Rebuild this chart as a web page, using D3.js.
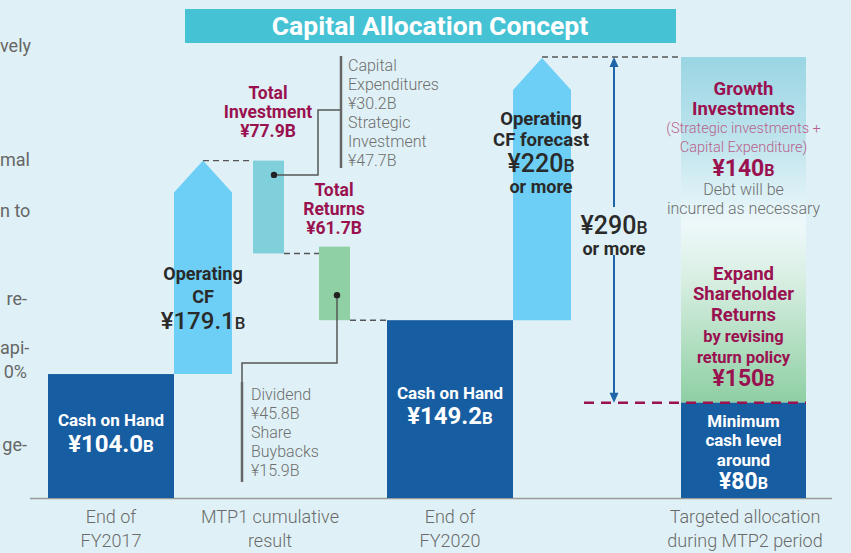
<!DOCTYPE html>
<html><head><meta charset="utf-8">
<script src="https://cdn.jsdelivr.net/npm/d3@7"></script>
<style>
html,body{margin:0;padding:0;background:#dff1f6;}
svg{display:block;font-family:Roboto,"Noto Sans",sans-serif;}
</style></head><body>
<svg id="chart" width="851" height="553"></svg>
<script>
// ---- values, ¥ billions ----
const stageLabels = [["End of", "FY2017"], ["MTP1 cumulative", "result"], ["End of", "FY2020"], ["Targeted allocation", "during MTP2 period"]];
const cashOnHand = [104.0, 149.2];          // end of FY2017, end of FY2020
const operatingCF = [179.1, 220];           // MTP1 result, MTP2 forecast
const investmentNames = ["Capital Expenditures", "Strategic Investment"];
const investmentValues = [30.2, 47.7];
const totalInvestment = 77.9;
const returnNames = ["Dividend", "Share Buybacks"];
const returnValues = [45.8, 15.9];
const totalReturns = 61.7;
const targetNames = ["Minimum cash level", "Shareholder returns", "Growth investments"];
const targetValues = [80, 150, 140];
const targetTotal = 290;
const sideNotes = ["vely", "mal", "n to", "re-", "api-", "0%", "ge-"];

// ---- layout ----
const W = 851, H = 553, base = 498;
const col = {
  cash1: [48, 174], ocf1: [174, 232], inv: [253, 284], ret: [319, 350],
  cash2: [387, 513], ocf2: [513, 571], target: [681, 806]
};
const C = {
  dark: "#175da2", sky: "#6dcff6", inv: "#80d0dc", ret: "#8fd0a4",
  maroon: "#9a1150", maroonLight: "#b8628c", gray: "#6e6e6e", ink: "#2a2a2a", arrow: "#1f63a8"
};

const svg = d3.select("#chart");
const y = d3.scaleLinear().domain([0, cashOnHand[1] + operatingCF[1]]).range([base, 58]);
const fmt = d3.format(".1f");

// gradient for the MTP2 allocation block
const allocLow = targetValues[0], allocMid = allocLow + targetValues[1], allocTop = allocMid + targetValues[2];
const grad = svg.append("defs").append("linearGradient").attr("id", "alloc")
  .attr("gradientUnits", "userSpaceOnUse").attr("x1", 0).attr("x2", 0).attr("y1", y(allocTop)).attr("y2", y(allocLow));
const split = (y(allocMid) - y(allocTop)) / (y(allocLow) - y(allocTop));
[[0, "#99d5e3"], [split * 0.55, "#c3e6ee"], [split, "#eef8fb"], [split + (1 - split) * 0.3, "#d9efe3"], [1, "#8ecfa3"]]
  .forEach(([o, c]) => grad.append("stop").attr("offset", o).attr("stop-color", c));

// title banner
svg.append("rect").attr("x", 185).attr("y", 9).attr("width", 491).attr("height", 34).attr("fill", "#45c3d4");
svg.append("text").attr("x", 430).attr("y", 35).attr("text-anchor", "middle")
  .attr("fill", "#fff").attr("font-size", 26.5).attr("font-weight", 700).text("Capital Allocation Concept");

// text of the neighbouring column, showing at the left margin
const sideY = [46, 160, 211, 299, 348, 372, 445];
svg.append("g").selectAll("text").data(sideNotes).join("text")
  .attr("y", (d, i) => sideY[i] + 6)
  .attr("fill", "#666").attr("font-size", 18).attr("font-weight", 400).text(d => d)
  .attr("x", function () { return Math.max(0, 27 - this.getComputedTextLength()); });

// baseline
svg.append("line").attr("x1", 30).attr("x2", 832).attr("y1", base + 0.5).attr("y2", base + 0.5)
  .attr("stroke", "#9a9a9a").attr("stroke-width", 1.5);

// text helper: each line {t, y (centre), size, weight, fill, suffix}
function block(cx, lines, anchor = "middle") {
  const g = svg.append("g");
  lines.forEach(l => {
    const t = g.append("text").attr("x", cx).attr("y", l.y + l.size * 0.36)
      .attr("text-anchor", anchor).attr("fill", l.fill).attr("font-size", l.size)
      .attr("font-weight", l.weight || 400).text(l.t);
    if (l.suffix) t.append("tspan").attr("font-size", l.size * 0.7).text(l.suffix);
  });
  return g;
}

function rect(x0x1, v0, v1, fill) {
  return svg.append("rect").attr("x", x0x1[0]).attr("width", x0x1[1] - x0x1[0])
    .attr("y", y(Math.max(v0, v1))).attr("height", Math.abs(y(v0) - y(v1))).attr("fill", fill);
}

// up-pointing block arrow from v0 to v1
function blockArrow(x0x1, v0, v1) {
  const [a, b] = x0x1, m = (a + b) / 2, tipY = y(v1), sh = tipY + 32;
  svg.append("path").attr("fill", C.sky)
    .attr("d", `M${a},${y(v0)}L${a},${sh}L${m},${tipY}L${b},${sh}L${b},${y(v0)}Z`);
  return [m, tipY];
}

function dash(x1, x2, yy, color = "#555", w = 1.4, da = "6,4") {
  svg.append("line").attr("x1", x1).attr("x2", x2).attr("y1", yy).attr("y2", yy)
    .attr("stroke", color).attr("stroke-width", w).attr("stroke-dasharray", da);
}

// ---- FY2017 cash ----
rect(col.cash1, 0, cashOnHand[0], C.dark);
block((col.cash1[0] + col.cash1[1]) / 2, [
  {t: "Cash on Hand", y: 420, size: 17, weight: 700, fill: "#fff"},
  {t: "¥" + fmt(cashOnHand[0]), suffix: "B", y: 443, size: 24, weight: 700, fill: "#fff"}
]);

// ---- MTP1 operating CF ----
const ocf1Top = cashOnHand[0] + operatingCF[0];
const [tip1x, tip1y] = blockArrow(col.ocf1, cashOnHand[0], ocf1Top);
block(203, [
  {t: "Operating", y: 274, size: 18, weight: 700, fill: C.ink},
  {t: "CF", y: 297, size: 18, weight: 700, fill: C.ink},
  {t: "¥" + fmt(operatingCF[0]), suffix: "B", y: 320, size: 24, weight: 500, fill: C.ink}
]);

// ---- MTP1 investment ----
const invBottom = ocf1Top - totalInvestment;
dash(tip1x, col.inv[0], y(ocf1Top));
rect(col.inv, ocf1Top, invBottom, C.inv);
block(268, [
  {t: "Total", y: 93, size: 17.5, weight: 700, fill: C.maroon},
  {t: "Investment", y: 112, size: 17.5, weight: 700, fill: C.maroon},
  {t: "¥" + fmt(totalInvestment) + "B", y: 131, size: 17.5, weight: 700, fill: C.maroon}
]);
const invDot = [274, y(ocf1Top - 12)];
svg.append("path").attr("fill", "none").attr("stroke", "#555").attr("stroke-width", 1.5)
  .attr("d", `M${invDot[0]},${invDot[1]}H318V110H341`);
svg.append("circle").attr("cx", invDot[0]).attr("cy", invDot[1]).attr("r", 3.2).attr("fill", "#222");
svg.append("line").attr("x1", 341).attr("x2", 341).attr("y1", 56).attr("y2", 168).attr("stroke", "#666").attr("stroke-width", 2.5);
const invLines = ["Capital", "Expenditures", "¥" + fmt(investmentValues[0]) + "B", "Strategic", "Investment", "¥" + fmt(investmentValues[1]) + "B"];
block(348, invLines.map((t, i) => ({t, y: 65 + i * 19, size: 16, weight: 300, fill: C.gray})), "start");

// ---- MTP1 returns (ending at FY2020 cash level) ----
const retTop = cashOnHand[1] + totalReturns;
dash(col.inv[1], col.ret[0], y(invBottom));
rect(col.ret, cashOnHand[1], retTop, C.ret);
block(334, [
  {t: "Total", y: 190, size: 17.5, weight: 700, fill: C.maroon},
  {t: "Returns", y: 209, size: 17.5, weight: 700, fill: C.maroon},
  {t: "¥" + fmt(totalReturns) + "B", y: 228, size: 17.5, weight: 700, fill: C.maroon}
]);
const retDot = [337, y(cashOnHand[1] + 21)];
svg.append("path").attr("fill", "none").attr("stroke", "#555").attr("stroke-width", 1.5)
  .attr("d", `M${retDot[0]},${retDot[1]}V363H242V382`);
svg.append("circle").attr("cx", retDot[0]).attr("cy", retDot[1]).attr("r", 3.2).attr("fill", "#222");
svg.append("line").attr("x1", 242).attr("x2", 242).attr("y1", 382).attr("y2", 482).attr("stroke", "#666").attr("stroke-width", 2.5);
const retLines = ["Dividend", "¥" + fmt(returnValues[0]) + "B", "Share", "Buybacks", "¥" + fmt(returnValues[1]) + "B"];
block(251, retLines.map((t, i) => ({t, y: 394 + i * 19, size: 16, weight: 300, fill: C.gray})), "start");
dash(col.ret[1], col.cash2[0], y(cashOnHand[1]));

// ---- FY2020 cash ----
rect(col.cash2, 0, cashOnHand[1], C.dark);
block((col.cash2[0] + col.cash2[1]) / 2, [
  {t: "Cash on Hand", y: 393, size: 17, weight: 700, fill: "#fff"},
  {t: "¥" + fmt(cashOnHand[1]), suffix: "B", y: 415, size: 24, weight: 700, fill: "#fff"}
]);

// ---- MTP2 operating CF forecast ----
const [tip2x, tip2y] = blockArrow(col.ocf2, cashOnHand[1], cashOnHand[1] + operatingCF[1]);
block(541, [
  {t: "Operating", y: 118, size: 18.5, weight: 700, fill: C.ink},
  {t: "CF forecast", y: 139, size: 18.5, weight: 700, fill: C.ink},
  {t: "¥" + operatingCF[1], suffix: "B", y: 163, size: 25, weight: 500, fill: C.ink},
  {t: "or more", y: 187, size: 18, weight: 700, fill: C.ink}
]);
dash(tip2x, col.target[0], y(allocTop));

// ---- MTP2 target allocation ----
rect(col.target, allocLow, allocTop, "url(#alloc)");
rect(col.target, 0, allocLow, C.dark);
dash(584, col.target[1], y(allocLow), C.maroon, 2.5, "10,7");

// double arrow spanning the allocation
const ax = 614, yTop = y(allocTop), yBot = y(allocLow);
svg.append("line").attr("x1", ax).attr("x2", ax).attr("y1", yTop + 8).attr("y2", 207).attr("stroke", C.arrow).attr("stroke-width", 2);
svg.append("line").attr("x1", ax).attr("x2", ax).attr("y1", 255).attr("y2", yBot - 8).attr("stroke", C.arrow).attr("stroke-width", 2);
svg.append("path").attr("fill", C.arrow).attr("d", `M${ax - 4.5},${yTop + 10}L${ax},${yTop}L${ax + 4.5},${yTop + 10}Z`);
svg.append("path").attr("fill", C.arrow).attr("d", `M${ax - 4.5},${yBot - 10}L${ax},${yBot}L${ax + 4.5},${yBot - 10}Z`);
block(ax, [
  {t: "¥" + targetTotal, suffix: "B", y: 225, size: 25, weight: 500, fill: C.ink},
  {t: "or more", y: 249, size: 18, weight: 700, fill: C.ink}
]);

const tcx = (col.target[0] + col.target[1]) / 2;
block(tcx, [
  {t: "Growth", y: 88, size: 18.5, weight: 700, fill: C.maroon},
  {t: "Investments", y: 108, size: 18.5, weight: 700, fill: C.maroon},
  {t: "(Strategic investments +", y: 128, size: 14.5, weight: 300, fill: C.maroonLight},
  {t: "Capital Expenditure)", y: 147, size: 14.5, weight: 300, fill: C.maroonLight},
  {t: "¥" + targetValues[2], suffix: "B", y: 168, size: 23, weight: 700, fill: C.maroon},
  {t: "Debt will be", y: 189, size: 16, weight: 300, fill: C.gray},
  {t: "incurred as necessary", y: 208, size: 16, weight: 300, fill: C.gray}
]);
block(tcx, [
  {t: "Expand", y: 273, size: 18.5, weight: 700, fill: C.maroon},
  {t: "Shareholder", y: 293, size: 18.5, weight: 700, fill: C.maroon},
  {t: "Returns", y: 314, size: 18.5, weight: 700, fill: C.maroon},
  {t: "by revising", y: 336, size: 16.5, weight: 700, fill: C.maroon},
  {t: "return policy", y: 357, size: 16.5, weight: 700, fill: C.maroon},
  {t: "¥" + targetValues[1], suffix: "B", y: 378, size: 23, weight: 700, fill: C.maroon}
]);
block(tcx, [
  {t: "Minimum", y: 420.5, size: 17, weight: 700, fill: "#fff"},
  {t: "cash level", y: 440, size: 17, weight: 700, fill: "#fff"},
  {t: "around", y: 459.5, size: 17, weight: 700, fill: "#fff"},
  {t: "¥" + targetValues[0], suffix: "B", y: 480.5, size: 23, weight: 700, fill: "#fff"}
]);

// ---- stage labels ----
const stageX = [111, 270, 450, 745];
stageLabels.forEach((ls, i) => block(stageX[i], ls.map((t, j) => ({t, y: 517 + j * 24, size: 18, weight: 300, fill: "#6a6a6a"}))));
</script>
</body></html>
